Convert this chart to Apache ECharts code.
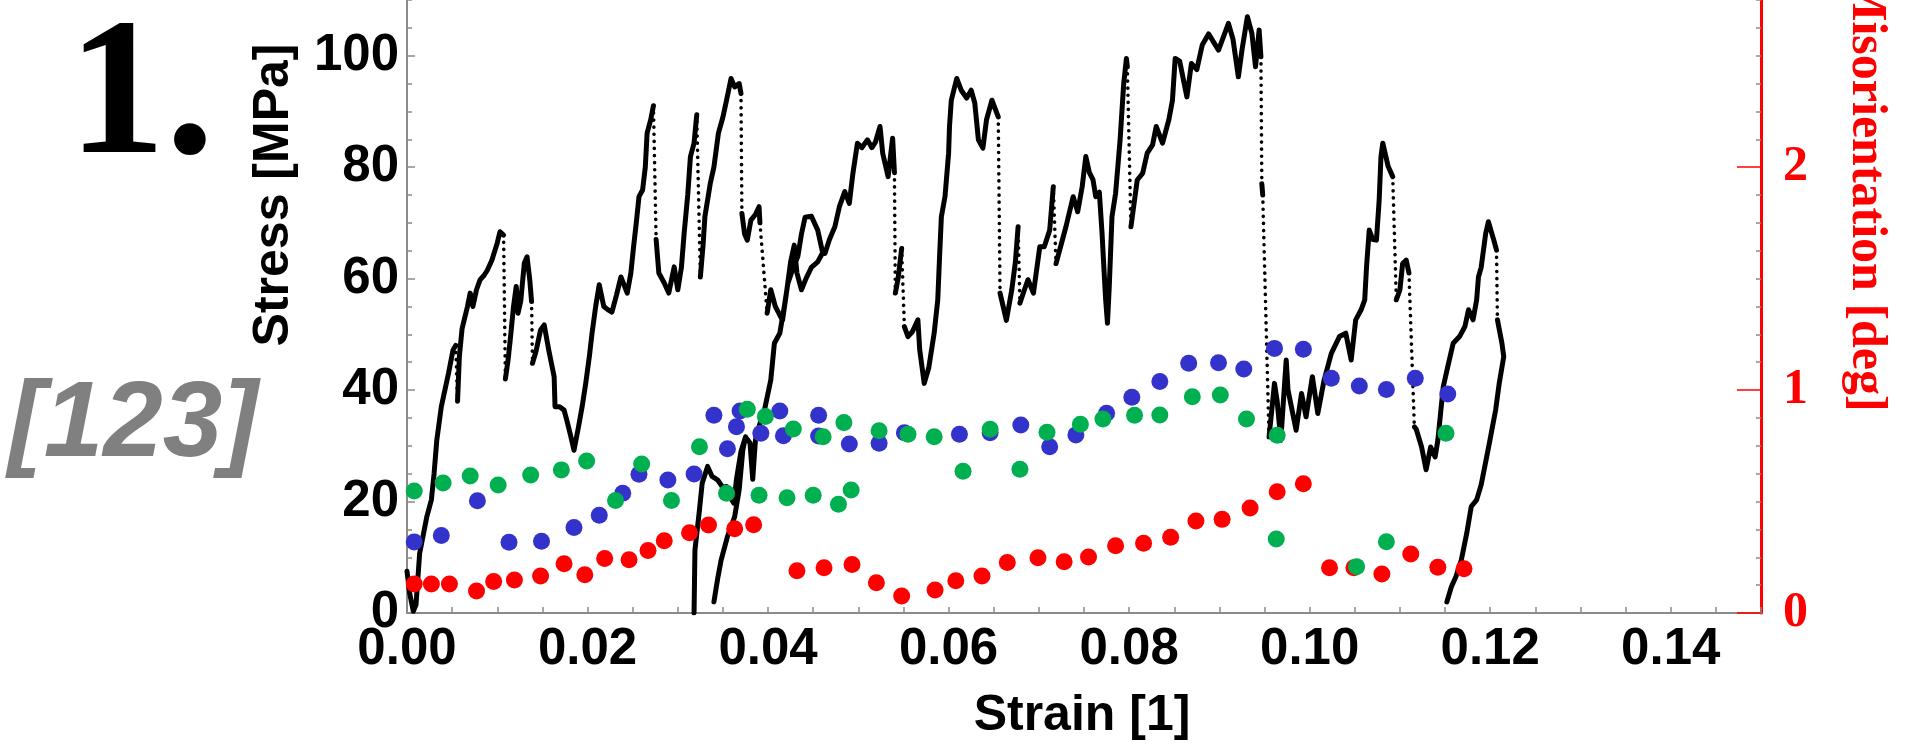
<!DOCTYPE html>
<html>
<head>
<meta charset="utf-8">
<script src="https://cdn.jsdelivr.net/npm/echarts@6/dist/echarts.min.js"></script>
<style>
  html, body { margin: 0; padding: 0; background: #fff; }
  #chart { width: 1908px; height: 755px; }
</style>
</head>
<body>
<div id="chart"></div>
<script>
// ---- Data ----
// Stress–strain curve: consecutive runs; between runs the curve jumps (drawn dotted)
const stressRunsMain = [
  [[0.0000,7.5],[0.0003,3.5],[0.0007,0.3],[0.0010,1.5],[0.0014,10.7],[0.0018,14],[0.0022,17.3],[0.0027,20.3],[0.0030,25],[0.0033,31],[0.0038,37],[0.0042,40],[0.0046,43],[0.0051,47.2],[0.0054,48]],
  [[0.0056,38],[0.0058,46],[0.0061,51],[0.0064,53],[0.0067,55],[0.0070,57.4],[0.0073,55],[0.0077,58],[0.0081,59.8],[0.0085,60.5],[0.0089,61.5],[0.0094,63.3],[0.0100,66.4],[0.0103,68.4],[0.0107,67.8]],
  [[0.0109,42],[0.0112,45.4],[0.0115,50],[0.0118,55],[0.0121,58.6],[0.0123,53.8],[0.0126,56],[0.0130,62.8],[0.0133,63.9],[0.0136,59.8],[0.0138,55.9]],
  [[0.0139,44.8],[0.0143,47],[0.0148,50.8],[0.0152,51.7],[0.0157,47.2],[0.0161,44],[0.0163,42.4],[0.0164,37],[0.0169,37],[0.0174,36.4],[0.0177,34.6],[0.0181,32],[0.0185,29.2],[0.0190,33.4],[0.0194,37],[0.0198,41.2],[0.0202,46],[0.0205,50.2],[0.0209,55],[0.0213,58.9],[0.0218,55],[0.0222,54.5],[0.0227,54],[0.0232,57],[0.0237,60.3],[0.0244,57.4],[0.0248,61],[0.0251,65.7],[0.0254,70],[0.0257,74.7],[0.0261,75.9],[0.0264,80],[0.0266,86.1],[0.0270,88.5],[0.0273,91]],
  [[0.0276,67],[0.0279,61],[0.0285,59.2],[0.0290,57.4],[0.0296,62.1],[0.0300,58],[0.0304,62],[0.0307,68.1],[0.0311,75],[0.0314,81.9],[0.0318,84.3],[0.0321,89.4]],
  [[0.0325,60.3],[0.0328,66],[0.0330,71.1],[0.0336,77.1],[0.0340,80],[0.0345,86.1],[0.0350,89],[0.0354,92],[0.0359,95.9],[0.0363,94.4],[0.0368,95],[0.0370,93.2]],
  [[0.0371,71.7],[0.0374,68],[0.0377,66.9],[0.0381,70.5],[0.0386,71.5],[0.0390,72.9],[0.0391,70]],
  [[0.0399,53.8],[0.0403,58],[0.0408,55],[0.0416,52.5],[0.0420,57],[0.0425,63],[0.0429,66],[0.0432,61],[0.0437,58],[0.0442,60],[0.0448,62],[0.0455,63],[0.0460,64.5],[0.0463,64.5],[0.0468,67],[0.0474,69.3],[0.0479,72.9],[0.0485,75.6],[0.0490,73.5],[0.0494,78.9],[0.0499,84.3],[0.0504,83.5],[0.0510,84.9],[0.0515,83.5],[0.0519,84.5],[0.0524,87.3],[0.0527,82.5],[0.0533,78.3],[0.0538,85.2],[0.0540,79]],
  [[0.0541,57.4],[0.0544,60],[0.0548,65.4]],
  [[0.0551,51.4],[0.0555,49.6],[0.0560,50.5],[0.0566,52.6],[0.0568,47.2],[0.0573,41.2],[0.0578,44],[0.0584,50.2],[0.0588,56.2],[0.0590,64],[0.0592,71.1],[0.0596,74.7],[0.0600,82.5],[0.0601,87.3],[0.0603,92],[0.0609,95.9],[0.0614,93.8],[0.0620,92.4],[0.0625,93.8],[0.0629,91.5],[0.0633,84.9],[0.0638,83.4],[0.0642,88.5],[0.0648,92],[0.0655,89]],
  [[0.0657,57.4],[0.0659,56],[0.0664,52.5],[0.0670,58],[0.0674,63],[0.0677,69.3]],
  [[0.0679,55.6],[0.0684,58],[0.0688,59.8],[0.0694,57.4],[0.0701,65.7],[0.0706,65.7],[0.0712,68.7],[0.0716,76.5]],
  [[0.0719,62.7],[0.0725,66.3],[0.0730,69.3],[0.0738,74.7],[0.0743,72],[0.0748,76.5],[0.0752,81.9],[0.0756,79],[0.0760,77.7],[0.0763,74.7],[0.0767,75.5],[0.0770,68.1],[0.0772,62],[0.0774,56.2],[0.0776,52],[0.0778,58.6],[0.0781,71.1],[0.0785,75.3],[0.0790,84.9],[0.0794,95],[0.0797,99.5],[0.0798,98]],
  [[0.0802,69.3],[0.0806,74.1],[0.0809,77.7],[0.0815,78.9],[0.0820,82.5],[0.0826,84],[0.0830,87.3],[0.0837,84.3],[0.0844,88.5],[0.0848,92],[0.0851,99.5],[0.0856,99],[0.0864,92.6],[0.0869,98.6],[0.0875,97.5],[0.0881,101.9],[0.0888,103.9],[0.0899,101],[0.0910,105.8],[0.0915,103],[0.0921,96.2],[0.0925,101],[0.0931,107],[0.0936,104],[0.0940,98],[0.0944,104.6],[0.0946,99.8]],
  [[0.0947,77],[0.0948,75]],
  [[0.0955,31.6],[0.0961,41.2],[0.0964,38],[0.0968,31],[0.0974,45.4],[0.0976,40],[0.0985,32.8],[0.0991,39.4],[0.0996,35.2],[0.1003,42.4],[0.1009,35.8],[0.1016,41.8],[0.1024,46.6],[0.1033,49.6],[0.1040,50.2],[0.1046,45.4],[0.1051,52.6],[0.1057,54.4],[0.1061,56.2],[0.1063,62.1],[0.1066,68.7],[0.1070,67],[0.1074,66.9],[0.1077,74.1],[0.1079,81.9],[0.1081,84.3],[0.1087,80.1],[0.1092,78.3]],
  [[0.1096,56.2],[0.1100,58],[0.1103,62.7],[0.1107,63.3],[0.1110,61]],
  [[0.1116,33.4],[0.1118,33],[0.1124,29.8],[0.1129,25.7],[0.1134,29.8],[0.1139,28],[0.1142,31],[0.1148,40.6],[0.1153,44.2],[0.1159,48.4],[0.1166,49.6],[0.1172,51.4],[0.1176,54.4],[0.1181,52.6],[0.1185,56.2],[0.1187,60.3],[0.1190,62],[0.1195,68.1],[0.1198,70.2],[0.1204,66.9],[0.1207,65.1]],
  [[0.1208,52.6],[0.1213,48.4],[0.1215,46]]
];
// Reloading strands (each drawn solid, unconnected)
const stressReloads = [
  [[0.0318,0],[0.0319,11.3],[0.0324,18.5],[0.0327,23.3],[0.0333,26.3],[0.0338,24.5],[0.0344,23.9],[0.0350,22.5],[0.0354,22.7],[0.0359,20.5],[0.0362,19.7],[0.0365,24],[0.0370,29],[0.0375,31.6],[0.0380,30.5],[0.0383,24],[0.0386,31],[0.0391,34],[0.0396,36.4],[0.0403,41.8],[0.0407,48.4],[0.0413,50.2],[0.0418,55],[0.0422,59.2],[0.0428,62],[0.0433,64],[0.0437,68],[0.0441,71],[0.0448,71.2],[0.0455,68.7],[0.0460,65]],
  [[0.0340,2],[0.0344,6],[0.0348,9.5],[0.0355,13.7],[0.0363,17.3],[0.0368,22.1],[0.0372,29.2],[0.0375,31.6]],
  [[0.1152,2],[0.1157,4.7],[0.1162,6.5],[0.1168,9.5],[0.1174,14.3],[0.1179,19.1],[0.1185,20.3],[0.1190,23],[0.1194,26.3],[0.1199,30.4],[0.1206,36.4],[0.1210,41.2],[0.1215,46]]
];
// Misorientation [deg] vs strain
const misRed = [[0.0008,0.130],[0.0027,0.130],[0.0047,0.130],[0.0077,0.099],[0.0096,0.141],[0.0119,0.148],[0.0148,0.166],[0.0174,0.221],[0.0197,0.172],[0.0219,0.244],[0.0246,0.239],[0.0267,0.280],[0.0285,0.324],[0.0313,0.360],[0.0334,0.395],[0.0363,0.378],[0.0384,0.396],[0.0432,0.190],[0.0462,0.203],[0.0493,0.218],[0.0520,0.136],[0.0548,0.076],[0.0585,0.103],[0.0608,0.145],[0.0637,0.166],[0.0665,0.227],[0.0699,0.248],[0.0728,0.230],[0.0755,0.251],[0.0785,0.302],[0.0816,0.313],[0.0846,0.340],[0.0874,0.413],[0.0903,0.420],[0.0934,0.471],[0.0964,0.544],[0.0993,0.580],[0.1022,0.203],[0.1049,0.203],[0.1080,0.175],[0.1112,0.265],[0.1142,0.205],[0.1171,0.199]];
const misBlue = [[0.0008,0.319],[0.0038,0.348],[0.0078,0.504],[0.0113,0.317],[0.0149,0.322],[0.0185,0.384],[0.0213,0.438],[0.0239,0.537],[0.0257,0.622],[0.0289,0.597],[0.0318,0.624],[0.0340,0.887],[0.0355,0.737],[0.0365,0.836],[0.0369,0.906],[0.0392,0.806],[0.0413,0.906],[0.0417,0.795],[0.0456,0.887],[0.0456,0.794],[0.0490,0.758],[0.0523,0.761],[0.0551,0.809],[0.0612,0.802],[0.0646,0.809],[0.0680,0.843],[0.0712,0.746],[0.0741,0.799],[0.0775,0.896],[0.0803,0.968],[0.0834,1.038],[0.0866,1.120],[0.0899,1.123],[0.0927,1.095],[0.0961,1.187],[0.0993,1.183],[0.1024,1.053],[0.1055,1.018],[0.1085,1.003],[0.1117,1.053],[0.1153,0.982]];
const misGreen = [[0.0008,0.547],[0.0040,0.583],[0.0070,0.615],[0.0101,0.574],[0.0137,0.619],[0.0171,0.642],[0.0199,0.682],[0.0231,0.505],[0.0260,0.668],[0.0293,0.505],[0.0324,0.746],[0.0354,0.537],[0.0377,0.914],[0.0390,0.528],[0.0397,0.881],[0.0421,0.517],[0.0428,0.825],[0.0450,0.528],[0.0461,0.791],[0.0478,0.488],[0.0484,0.854],[0.0492,0.552],[0.0523,0.818],[0.0555,0.802],[0.0584,0.791],[0.0616,0.636],[0.0646,0.824],[0.0679,0.645],[0.0709,0.811],[0.0746,0.847],[0.0771,0.870],[0.0806,0.887],[0.0834,0.888],[0.0870,0.970],[0.0901,0.978],[0.0930,0.870],[0.0964,0.797],[0.0963,0.332],[0.1052,0.208],[0.1085,0.320],[0.1151,0.806]];

// Axis ranges / tick steps
const strainRange = [0, 0.15], strainStep = 0.005, strainLabelStep = 0.02;
const stressRange = [0, 120], stressStep = 20;
const misRange = [0, 3], misStep = 1;

// ---- Build line data (runs solid, jumps dotted) ----
const BREAK = ['-', '-'];
const solidData = [], jumpData = [];
function addPath(runs) {
  runs.forEach((run, i) => {
    run.forEach(p => solidData.push(p));
    solidData.push(BREAK);
    if (i > 0) {
      const prev = runs[i - 1];
      jumpData.push(prev[prev.length - 1], run[0], BREAK);
    }
  });
}
addPath(stressRunsMain);
stressReloads.forEach(r => addPath([r]));

const chart = echarts.init(document.getElementById('chart'), null, { renderer: 'canvas' });
const gray = '#8a8a8a';
const sans = 'Liberation Sans, Arial, sans-serif';
const serif = 'Liberation Serif, Times New Roman, serif';

chart.setOption({
  animation: false,
  backgroundColor: '#fff',
  grid: { left: 407, right: 147, top: -55.8, bottom: 142, containLabel: false, outerBoundsMode: 'none' },
  xAxis: {
    type: 'value', min: strainRange[0], max: strainRange[1], interval: strainStep,
    axisLine: { show: true, onZero: false, lineStyle: { color: gray, width: 2 } },
    axisTick: { show: true, inside: true, length: 6, lineStyle: { color: gray, width: 1.5 } },
    splitLine: { show: false },
    axisLabel: {
      margin: 11, color: '#000', fontSize: 51, fontWeight: 'bold', fontFamily: sans,
      formatter: v => {
        const k = v / strainLabelStep;
        return Math.abs(k - Math.round(k)) < 1e-6 ? v.toFixed(2) : '';
      }
    }
  },
  yAxis: [
    {
      type: 'value', position: 'left', min: stressRange[0], max: stressRange[1], interval: stressStep,
      axisLine: { show: true, lineStyle: { color: gray, width: 2 } },
      axisTick: { show: true, inside: true, length: 8, lineStyle: { color: gray, width: 1.5 } },
      minorTick: { show: true, splitNumber: 4, length: 5, lineStyle: { color: gray, width: 1.5 } },
      splitLine: { show: false },
      axisLabel: { margin: 8, color: '#000', fontSize: 51, fontWeight: 'bold', fontFamily: sans, padding: [0, 0, 6, 0] }
    },
    {
      type: 'value', position: 'right', min: misRange[0], max: misRange[1], interval: misStep,
      axisLine: { show: true, lineStyle: { color: '#ff0000', width: 3 } },
      axisTick: { show: true, inside: true, length: 24, lineStyle: { color: '#ff0000', width: 1.5 } },
      minorTick: { show: true, splitNumber: 8, length: 5, lineStyle: { color: gray, width: 1.5 } },
      splitLine: { show: false },
      axisLabel: { margin: 22, color: '#ff0000', fontSize: 50, fontWeight: 'bold', fontFamily: serif, padding: [14, 0, 0, 0] }
    }
  ],
  series: [
    {
      name: 'Stress', type: 'line', data: solidData, yAxisIndex: 0, showSymbol: false, symbol: 'none',
      connectNulls: false, clip: true,
      lineStyle: { color: '#000', width: 5, join: 'round', cap: 'round' }, z: 2
    },
    {
      name: 'Stress jumps', type: 'line', data: jumpData, yAxisIndex: 0, showSymbol: false, symbol: 'none',
      connectNulls: false, clip: true,
      lineStyle: { color: '#000', width: 3.6, type: [0.1, 7], cap: 'round' }, z: 2
    },
    { name: 'Red', type: 'scatter', data: misRed, yAxisIndex: 1, symbolSize: 17, itemStyle: { color: '#ff0000', opacity: 1 }, z: 3 },
    { name: 'Blue', type: 'scatter', data: misBlue, yAxisIndex: 1, symbolSize: 17, itemStyle: { color: '#3333cc', opacity: 1 }, z: 3 },
    { name: 'Green', type: 'scatter', data: misGreen, yAxisIndex: 1, symbolSize: 17, itemStyle: { color: '#00b050', opacity: 1 }, z: 4 }
  ],
  graphic: [
    { type: 'text', x: 68, y: 102, style: { text: '1.', fontSize: 195, fontWeight: 'bold', fontFamily: serif, fill: '#000', align: 'left', verticalAlign: 'middle', textAlign: 'left', textVerticalAlign: 'middle' } },
    { type: 'text', x: 8, y: 426, style: { text: '[123]', fontSize: 107, fontWeight: 'bold', fontStyle: 'italic', fontFamily: sans, fill: '#808080', align: 'left', verticalAlign: 'middle', textAlign: 'left', textVerticalAlign: 'middle' } },
    { type: 'text', x: 274, y: 195, rotation: Math.PI / 2, style: { text: 'Stress [MPa]', fontSize: 50, fontWeight: 'bold', fontFamily: sans, fill: '#000', align: 'center', verticalAlign: 'middle', textAlign: 'center', textVerticalAlign: 'middle' } },
    { type: 'text', x: 1866, y: 193, rotation: -Math.PI / 2, style: { text: 'Misorientation [deg]', fontSize: 50, fontWeight: 'bold', fontFamily: serif, fill: '#ff0000', align: 'center', verticalAlign: 'middle', textAlign: 'center', textVerticalAlign: 'middle' } },
    { type: 'text', x: 1082, y: 716, style: { text: 'Strain [1]', fontSize: 50, fontWeight: 'bold', fontFamily: sans, fill: '#000', align: 'center', verticalAlign: 'middle', textAlign: 'center', textVerticalAlign: 'middle' } }
  ]
});
</script>
</body>
</html>
